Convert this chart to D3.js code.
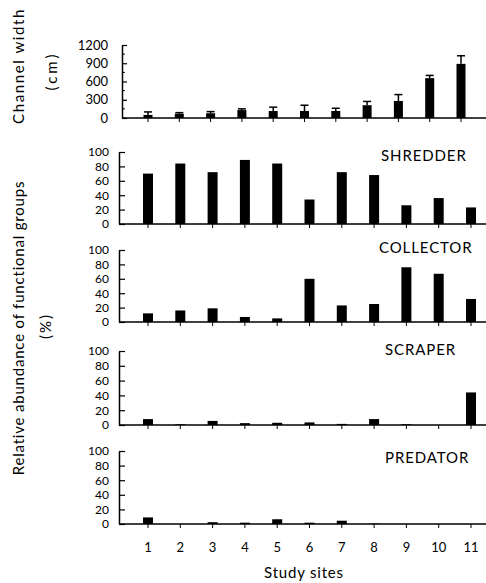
<!DOCTYPE html>
<html><head><meta charset="utf-8">
<script src="https://cdn.jsdelivr.net/npm/d3@7"></script>
<style>body{margin:0;background:#fff;} svg{display:block;font-family:Lato,"Open Sans",sans-serif;}</style>
</head><body><svg id="c" width="486" height="583"></svg>
<script>
const sites = [1,2,3,4,5,6,7,8,9,10,11];
const channelWidth = [50, 70, 78, 130, 115, 115, 115, 210, 280, 655, 890];
const channelErr   = [50, 18, 27, 20, 63, 95, 45, 62, 105, 45, 133];
const shredder  = [70, 84, 72, 89, 84, 34, 72, 68, 26, 36, 23];
const collector = [12, 16, 19, 7, 5, 60, 23, 25, 76, 67, 32];
const scraper   = [8, 1, 5.5, 2.5, 3, 3.5, 1.5, 8, 1, 0, 44];
const predator  = [9, 0, 2.5, 1.8, 6.5, 1.8, 4.5, 0.5, 0, 0, 0];
const groupNames = ["SHREDDER","COLLECTOR","SCRAPER","PREDATOR"];
const groupValues = [shredder, collector, scraper, predator];
const pctTicks = [0,20,40,60,80,100];
const widthTicks = [0,300,600,900,1200];

// layout
const panelY = [[224,152],[322,250],[425,351],[524,451]];
const labelDy = [9,3,4,12];
const labelX = [381,379,385,385];

const svg = d3.select("#c");

function baseline(g, x0, y){
  g.append("line").attr("x1",x0).attr("x2",486).attr("y1",y).attr("y2",y)
   .attr("stroke","#000").attr("stroke-width",1.5);
}

// ---- top panel: channel width ----
{
  const ax = 122;
  const x = d3.scaleLinear().domain([1,11]).range([148,461]);
  const y = d3.scaleLinear().domain([0,1200]).range([118,45]);
  const g = svg.append("g");
  baseline(g, ax, y(0));
  g.selectAll("rect.bar").data(sites).join("rect")
    .attr("x", d=>x(d)-4.5).attr("width",9)
    .attr("y", (d,i)=>y(channelWidth[i])).attr("height",(d,i)=>y(0)-y(channelWidth[i]))
    .attr("fill","#000");
  g.selectAll("line.err").data(sites).join("line")
    .attr("x1",d=>x(d)).attr("x2",d=>x(d))
    .attr("y1",(d,i)=>y(channelWidth[i])).attr("y2",(d,i)=>y(channelWidth[i]+channelErr[i]))
    .attr("stroke","#000").attr("stroke-width",1.5);
  g.selectAll("line.cap").data(sites).join("line")
    .attr("x1",d=>x(d)-4).attr("x2",d=>x(d)+4)
    .attr("y1",(d,i)=>y(channelWidth[i]+channelErr[i])).attr("y2",(d,i)=>y(channelWidth[i]+channelErr[i]))
    .attr("stroke","#000").attr("stroke-width",1.5);
  g.selectAll("line.xt").data(sites).join("line")
    .attr("x1",d=>x(d)).attr("x2",d=>x(d)).attr("y1",y(0)).attr("y2",y(0)+4)
    .attr("stroke","#000").attr("stroke-width",1);
  const minor = d3.range(150,1200,300);
  g.selectAll("line.mt").data(minor).join("line")
    .attr("x1",ax).attr("x2",ax+3).attr("y1",d=>y(d)).attr("y2",d=>y(d))
    .attr("stroke","#000").attr("stroke-width",1);
  const yAxis = d3.axisLeft(y).tickValues(widthTicks).tickFormat(d3.format("d"))
    .tickSizeInner(-5).tickSizeOuter(0).tickPadding(14);
  const ag = g.append("g").attr("transform",`translate(${ax},0)`).call(yAxis);
  ag.select(".domain").attr("stroke-width",1.5);
  ag.selectAll(".tick line").attr("stroke-width",1.2);
  ag.selectAll("text").attr("font-size",13).attr("font-family","Lato").attr("fill","#000");
}

// ---- functional group panels ----
const lx = d3.scaleLinear().domain([1,11]).range([148,471]);
groupNames.forEach((name, k) => {
  const ax = 119;
  const y = d3.scaleLinear().domain([0,100]).range(panelY[k]);
  const vals = groupValues[k];
  const g = svg.append("g");
  baseline(g, ax, y(0));
  g.selectAll("rect").data(sites).join("rect")
    .attr("x", d=>lx(d)-5).attr("width",10)
    .attr("y",(d,i)=>y(vals[i])).attr("height",(d,i)=>y(0)-y(vals[i]))
    .attr("fill","#000");
  g.selectAll("line.xt").data(sites).join("line")
    .attr("x1",d=>lx(d)).attr("x2",d=>lx(d)).attr("y1",y(0)).attr("y2",y(0)+4)
    .attr("stroke","#000").attr("stroke-width",1);
  const yAxis = d3.axisLeft(y).tickValues(pctTicks).tickSizeInner(-6).tickSizeOuter(0).tickPadding(10);
  const ag = g.append("g").attr("transform",`translate(${ax},0)`).call(yAxis);
  ag.select(".domain").attr("stroke-width",1.5);
  ag.selectAll(".tick line").attr("stroke-width",1.2);
  ag.selectAll("text").attr("font-size",12).attr("font-family","Lato").attr("fill","#000");
  g.append("text").attr("x",labelX[k]).attr("y",y(100)+labelDy[k]).attr("text-anchor","start")
    .attr("font-size",15).attr("letter-spacing",0.9).text(name);
});

// x tick labels
svg.append("g").selectAll("text").data(sites).join("text")
  .attr("x",d=>lx(d)).attr("y",552).attr("text-anchor","middle")
  .attr("font-size",13).text(d=>d);
svg.append("text").attr("x",304).attr("y",578).attr("text-anchor","middle")
  .attr("font-size",15).attr("letter-spacing",0.8).text("Study sites");

// y axis titles
function vtext(x, y, t, fs, ls){
  svg.append("text").attr("transform",`translate(${x},${y}) rotate(-90)`)
    .attr("text-anchor","middle").attr("font-size",fs).attr("letter-spacing",ls).text(t);
}
vtext(24, 66, "Channel width", 15, 1.6);
vtext(57, 71, "(cm)", 15, 3);
vtext(24, 328, "Relative abundance of functional groups", 15, 0.8);
vtext(51, 326, "(%)", 15, 2);
</script></body></html>
